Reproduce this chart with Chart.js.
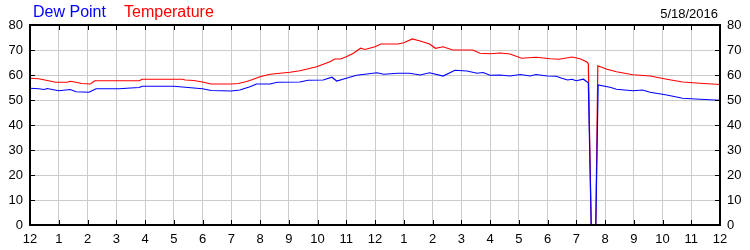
<!DOCTYPE html>
<html>
<head>
<meta charset="utf-8">
<script src="https://cdn.jsdelivr.net/npm/chart.js@4"></script>
<style>
  body { margin: 0; background: #fff; }
  #wrap { position: relative; width: 750px; height: 250px; }
  .hdr { position: absolute; font-family: "Liberation Sans", Arial, sans-serif; line-height: 16px; white-space: nowrap; }
  #lgDew { left: 33px; top: 4px; font-size: 16px; color: #0000ff; }
  #lgTemp { left: 124px; top: 4px; font-size: 16px; color: #ff0000; }
  #date { right: 32px; top: 6px; font-size: 13px; color: #000; }
</style>
</head>
<body>
<div id="wrap">
  <canvas id="chart" width="750" height="250"></canvas>
  <div class="hdr" id="lgDew">Dew Point</div>
  <div class="hdr" id="lgTemp">Temperature</div>
  <div class="hdr" id="date">5/18/2016</div>
</div>
<script>
// x labels: one per hour, midnight to midnight
const hourLabels = ['12','1','2','3','4','5','6','7','8','9','10','11','12','1','2','3','4','5','6','7','8','9','10','11','12'];

// Temperature (hours since midnight / degrees)
const tempTimes = [0, 0.3, 0.6, 0.9, 1.3, 1.4, 1.55, 1.8, 2.1, 2.25, 3.0, 3.8, 3.9, 5.0, 5.3, 5.4, 5.7, 6.0, 6.3, 7.0,
  7.25, 7.5, 7.65, 8.0, 8.35, 9.04, 9.39, 9.97, 10.43, 10.6, 10.8, 11.0, 11.25, 11.5, 11.65, 12.0, 12.2, 12.8, 13.0, 13.3,
  13.57, 13.9, 14.1, 14.37, 14.7, 15.4, 15.65, 16.0, 16.35, 16.7, 17.1, 17.6, 18.1, 18.4, 18.85, 19.13, 19.37, 19.42,
  19.52, 19.68, 19.75, 20.07, 20.4, 20.97, 21.57, 22.15, 22.7, 23.3, 24];
const tempValues = [58.7, 58.5, 57.8, 57.1, 57.1, 57.5, 57.2, 56.6, 56.4, 57.7, 57.7, 57.7, 58.3, 58.3, 58.3, 58.0, 57.8, 57.2, 56.4, 56.4,
  56.6, 57.3, 57.8, 59.3, 60.3, 61.1, 61.7, 63.3, 65.3, 66.4, 66.4, 67.3, 68.7, 70.7, 70.2, 71.3, 72.4, 72.4, 72.9, 74.4,
  73.6, 72.4, 70.7, 71.3, 70.0, 70.0, 68.7, 68.5, 68.8, 68.4, 66.7, 67.1, 66.5, 66.3, 67.2, 66.5, 65.2, 64.4,
  0, 0, 63.7, 62.3, 61.3, 60.1, 59.6, 58.3, 57.2, 56.7, 56.2];

// Dew point
const dewTimes = [0, 0.3, 0.5, 0.6, 1.0, 1.4, 1.6, 2.05, 2.3, 3.1, 3.5, 3.8, 3.9, 5.0, 5.5, 6.0, 6.3, 7.0, 7.3, 7.65,
  7.88, 8.35, 8.6, 9.39, 9.67, 10.2, 10.5, 10.67, 11.0, 11.36, 12.07, 12.3, 12.8, 13.2, 13.57, 13.9, 14.37, 14.78, 15.2,
  15.55, 15.76, 16.0, 16.35, 16.7, 17.05, 17.4, 17.6, 18.0, 18.3, 18.5, 18.7, 18.85, 19.0, 19.25, 19.42, 19.52, 19.68,
  19.76, 20.17, 20.4, 20.97, 21.3, 21.57, 22.15, 22.7, 23.3, 24];
const dewValues = [54.7, 54.5, 54.2, 54.6, 53.7, 54.2, 53.3, 53.1, 54.5, 54.5, 54.8, 55.0, 55.5, 55.5, 55.0, 54.5, 53.8, 53.6, 54.0, 55.3,
  56.4, 56.4, 57.1, 57.2, 57.9, 58.0, 59.1, 57.6, 58.7, 59.9, 60.9, 60.3, 60.7, 60.7, 60.0, 60.9, 59.6, 61.9, 61.6,
  60.7, 61.0, 59.9, 60.0, 59.6, 60.2, 59.6, 60.2, 59.6, 59.5, 58.7, 58.0, 58.3, 57.7, 58.3, 56.9, 0, 0,
  56.0, 55.1, 54.3, 53.7, 54.0, 53.1, 52.0, 50.7, 50.3, 49.9];

const yMin = 0, yMax = 80, yStep = 10;

function pairs(xs, ys) {
  return xs.map((x, i) => ({ x: x, y: ys[i] }));
}

// black frame with short inward tick marks, like the original
const framePlugin = {
  id: 'frame',
  afterDraw(chart) {
    const ctx = chart.ctx;
    const a = chart.chartArea;
    const xs = chart.scales.x;
    const ys = chart.scales.y;
    ctx.save();
    ctx.strokeStyle = '#000';
    ctx.lineWidth = 1;
    ctx.beginPath();
    for (let h = 1; h < hourLabels.length - 1; h++) {
      const px = Math.round(xs.getPixelForValue(h)) + 0.5;
      ctx.moveTo(px, a.top); ctx.lineTo(px, a.top + 5);
      ctx.moveTo(px, a.bottom); ctx.lineTo(px, a.bottom - 5);
    }
    for (let v = yMin + yStep; v < yMax; v += yStep) {
      const py = Math.round(ys.getPixelForValue(v)) + 0.5;
      ctx.moveTo(a.left, py); ctx.lineTo(a.left + 5, py);
      ctx.moveTo(a.right, py); ctx.lineTo(a.right - 5, py);
    }
    ctx.stroke();
    ctx.lineWidth = 2;
    ctx.strokeRect(a.left, a.top, a.right - a.left, a.bottom - a.top);
    ctx.restore();
  }
};

const tickFont = { family: '"Liberation Sans", Arial, sans-serif', size: 13 };

new Chart(document.getElementById('chart'), {
  type: 'line',
  data: {
    datasets: [
      {
        label: 'Dew Point',
        data: pairs(dewTimes, dewValues),
        borderColor: '#0000ff',
        borderWidth: 1.2,
        pointRadius: 0,
        tension: 0,
        clip: false
      },
      {
        label: 'Temperature',
        data: pairs(tempTimes, tempValues),
        borderColor: '#ff0000',
        borderWidth: 1.2,
        pointRadius: 0,
        tension: 0,
        clip: false
      }
    ]
  },
  options: {
    responsive: false,
    animation: false,
    events: [],
    layout: { padding: { top: 25, left: 0, right: 0, bottom: 0 } },
    plugins: { legend: { display: false }, tooltip: { enabled: false } },
    scales: {
      x: {
        type: 'linear',
        min: 0,
        max: 24,
        afterFit: s => { s.height = 25; },
        afterBuildTicks: s => { s.ticks = hourLabels.map((_, i) => ({ value: i })); },
        ticks: {
          autoSkip: false,
          maxRotation: 0,
          padding: 7,
          color: '#000',
          font: tickFont,
          callback: v => hourLabels[v]
        },
        grid: { color: '#cccccc', drawTicks: false },
        border: { display: false }
      },
      y: {
        position: 'left',
        min: yMin,
        max: yMax,
        afterFit: s => { s.width = 30; },
        ticks: { stepSize: yStep, padding: 7, color: '#000', font: tickFont },
        grid: { color: '#cccccc', drawTicks: false },
        border: { display: false }
      },
      y2: {
        position: 'right',
        min: yMin,
        max: yMax,
        afterFit: s => { s.width = 30; },
        ticks: { stepSize: yStep, padding: 7, color: '#000', font: tickFont },
        grid: { display: false, drawTicks: false },
        border: { display: false }
      }
    }
  },
  plugins: [framePlugin]
});
</script>
</body>
</html>
